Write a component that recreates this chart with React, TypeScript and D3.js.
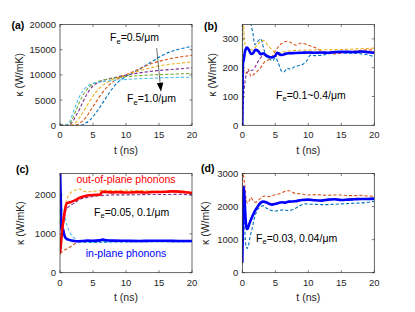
import React from 'react';
import * as d3 from 'd3';

type Pt = [number, number];

const tTicks = [0, 5, 10, 15, 20];
const aTicks = [0, 5000, 10000, 15000, 20000];
const bTicks = [0, 100, 200, 300];
const cTicks = [0, 1000, 2000];
const dTicks = [0, 1000, 2000, 3000];

// Panel (a): Fe = 0.5 ... 1.0 /um
const aFe05: Pt[] = [[0,0],[3,0],[3.5,150],[4,500],[4.5,1000],[5,1700],[5.5,2600],[6,3500],[6.5,4500],[7,5500],[7.5,6500],[8,7400],[8.5,8200],[9,8800],[10,9700],[11,10400],[12,11100],[13,11900],[14,12700],[15,13500],[16,14200],[17,14700],[18,15100],[19,15400],[20,15700]];
const aFe06: Pt[] = [[0,0],[2,0],[2.5,100],[3,400],[3.5,1000],[4,1700],[4.5,2700],[5,3700],[5.5,4700],[6,5700],[7,7400],[8,8600],[9,9400],[10,10000],[11,10600],[12,11200],[13,11800],[14,12300],[15,12700],[16,13000],[17,13300],[18,13500],[19,13700],[20,13900]];
const aFe07: Pt[] = [[0,0],[1,0],[2,200],[2.5,700],[3,1600],[3.5,2600],[4,3700],[4.5,4800],[5,5800],[6,7400],[7,8400],[8,9100],[9,9600],[10,10000],[12,10800],[14,11500],[16,12000],[18,12300],[20,12600]];
const aFe08: Pt[] = [[0,0],[1,0],[1.5,150],[2,900],[2.5,2100],[3,3300],[3.5,4700],[4,6000],[5,7800],[6,8600],[7,9100],[8,9400],[9,9700],[10,9950],[12,10400],[14,10750],[16,11000],[18,11200],[20,11400]];
const aFe09: Pt[] = [[0,0],[1,50],[1.5,400],[2,1600],[2.5,3200],[3,4700],[3.5,6000],[4,7000],[5,8200],[6,8800],[7,9100],[8,9300],[9,9500],[10,9650],[12,9850],[14,10000],[16,10100],[18,10200],[20,10300]];
const aFe10: Pt[] = [[0,0],[1,100],[1.5,800],[2,2600],[2.5,4300],[3,5800],[3.5,6900],[4,7600],[5,8300],[6,8600],[7,8750],[8,8900],[9,9000],[10,9100],[12,9250],[14,9350],[16,9450],[18,9500],[20,9550]];

// Panel (b)
const bMean: Pt[] = [[0,0],[0.05,150],[0.1,215],[0.2,225],[0.4,255],[0.7,270],[1.0,262],[1.3,248],[1.6,250],[2.0,262],[2.4,258],[2.8,247],[3.2,250],[3.6,243],[4.0,238],[4.5,236],[5.0,242],[5.3,252],[5.6,248],[6.0,244],[6.5,248],[7,250],[8,251],[9,252],[10,253],[11,252],[12,253],[13,252],[14,254],[15,255],[16,255],[17,254],[18,256],[19,254],[20,252]];
const bFe01: Pt[] = [[0,20],[0.1,400],[0.4,380],[0.8,370],[1.2,360],[1.6,320],[1.9,280],[2.3,290],[2.8,300],[3.2,270],[3.6,240],[4.1,230],[4.6,225],[5.0,235],[5.4,220],[5.9,190],[6.3,185],[6.8,198],[7.3,195],[7.9,203],[8.5,207],[9.2,212],[9.8,225],[10.3,243],[11,242],[12,243],[13,248],[14,254],[15,252],[16,250],[17,251],[18,248],[19,245],[20,238]];
const bFe02: Pt[] = [[0,0],[0.15,150],[0.3,190],[0.6,180],[0.9,195],[1.3,170],[1.8,178],[2.3,188],[2.8,200],[3.3,218],[3.8,225],[4.3,232],[4.8,250],[5.3,268],[5.9,283],[6.4,290],[6.9,292],[7.5,285],[8.2,278],[8.8,285],[9.4,283],[10,278],[11,270],[12,258],[13,250],[14,248],[15,250],[16,255],[17,258],[18,260],[19,262],[20,262]];
const bFe03: Pt[] = [[0,0],[0.05,340],[0.15,380],[0.3,300],[0.6,270],[1.0,265],[1.5,262],[2.0,272],[2.5,285],[3.0,295],[3.4,292],[3.8,280],[4.2,270],[4.6,260],[5.0,255],[5.5,252],[6.0,254],[7,258],[8,260],[10,261],[12,262],[14,263],[16,264],[18,266],[20,268]];
const bFe04: Pt[] = [[0,0],[0.2,100],[0.4,150],[0.8,185],[1.2,190],[1.6,192],[2.0,205],[2.4,222],[2.8,235],[3.2,243],[3.6,240],[4.1,236],[4.6,238],[5.2,240],[6,244],[7,248],[8,250],[10,252],[12,252],[14,253],[16,254],[18,254],[20,255]];

// Panel (c)
const cInPlane: Pt[] = [[0,2700],[0.1,2000],[0.2,1200],[0.3,1050],[0.45,1120],[0.6,1000],[0.8,900],[1.0,870],[1.3,850],[1.7,830],[2.2,815],[2.8,810],[3.5,815],[4.3,825],[5,820],[6,830],[6.5,850],[7,835],[8,825],[10,820],[12,815],[14,820],[16,820],[18,815],[20,815]];
const cOutPlane: Pt[] = [[0,500],[0.1,650],[0.25,980],[0.5,1320],[0.75,1600],[1.0,1780],[1.5,1810],[2.0,1840],[2.5,1880],[3.0,1930],[3.8,1970],[4.5,1990],[5.5,2000],[6.1,2010],[6.4,2080],[7,2075],[8,2065],[9,2070],[10,2060],[11,2065],[12,2070],[13,2060],[14,2075],[15,2075],[16,2080],[17,2090],[18,2085],[19,2070],[20,2050]];
const cOutA: Pt[] = [[0,450],[0.3,1100],[0.6,1550],[0.9,1800],[1.2,1950],[1.6,2050],[2.0,2100],[2.5,2130],[3.0,2150],[3.5,2100],[4,2080],[5,2090],[6,2110],[7,2120],[8,2110],[10,2120],[12,2110],[14,2100],[16,2090],[18,2100],[20,2070]];
const cOutB: Pt[] = [[0,480],[0.3,900],[0.6,1350],[0.9,1600],[1.2,1680],[1.6,1730],[2.0,1770],[2.5,1830],[3.0,1880],[4,1930],[5,1960],[6,1980],[7,1990],[8,2000],[10,2000],[12,2005],[14,2010],[16,2010],[18,2015],[20,2000]];
const cInA: Pt[] = [[0,500],[0.5,560],[1,610],[1.5,660],[2,720],[2.5,770],[3,800],[4,810],[5,800],[6,810],[7,820],[8,810],[10,805],[12,805],[14,810],[16,805],[18,805],[20,805]];
const cInB: Pt[] = [[0,2600],[0.2,1800],[0.4,1550],[0.6,1480],[0.8,1400],[1.0,1250],[1.3,1100],[1.7,980],[2.2,880],[2.8,820],[3.5,800],[5,790],[7,800],[10,800],[14,800],[20,800]];
const cInC: Pt[] = [[0,1200],[0.3,1050],[0.6,980],[1,900],[1.5,850],[2,820],[3,790],[5,780],[8,790],[12,795],[20,800]];

// Panel (d)
const dMean: Pt[] = [[0,300],[0.1,1500],[0.2,2600],[0.3,2400],[0.45,1800],[0.6,1400],[0.75,1320],[0.9,1380],[1.1,1500],[1.4,1650],[1.7,1780],[2.0,1900],[2.4,2020],[2.8,2120],[3.2,2150],[3.6,2130],[4.0,2090],[4.5,2060],[5.0,2080],[5.5,2110],[6,2130],[6.5,2120],[7,2150],[8,2160],[9,2200],[10,2210],[11,2190],[12,2180],[13,2210],[14,2220],[15,2200],[16,2210],[17,2220],[18,2230],[19,2230],[20,2240]];
const dFe003: Pt[] = [[0,250],[0.05,3100],[0.2,2900],[0.4,2600],[0.6,2200],[0.8,2100],[1.0,2150],[1.3,2280],[1.6,2180],[2.0,2130],[2.5,2200],[3.0,2300],[3.5,2320],[4.0,2300],[4.5,2330],[5,2360],[5.5,2380],[6,2420],[6.5,2460],[7,2480],[7.5,2450],[8,2400],[9,2380],[10,2350],[11,2360],[12,2350],[13,2340],[14,2350],[15,2350],[16,2330],[17,2330],[18,2340],[19,2320],[20,2310]];
const dFe004: Pt[] = [[0,300],[0.1,2000],[0.2,2500],[0.35,1500],[0.5,900],[0.7,730],[0.9,800],[1.2,1100],[1.5,1350],[1.9,1700],[2.3,1900],[2.8,2000],[3.2,2030],[3.6,1960],[4.2,1900],[4.8,1860],[5.5,1880],[6.2,1900],[7,1880],[7.8,1920],[8.5,2000],[9.5,2080],[10.5,2070],[12,2060],[13,2060],[14,2070],[15,2080],[16,2090],[17,2100],[18,2110],[19,2130],[20,2160]];

const C1 = '#0072BD', C2 = '#D95319', C3 = '#EDB120', C4 = '#7E2F8E', C5 = '#77AC30', C6 = '#4DBEEE';
const FONT = 'Liberation Sans, Arial, Helvetica, sans-serif';
const AX = '#262626';

type S = { data: Pt[]; color: string; width: number; dash?: string };

function Fe({ x, y, rest, size = 10.5 }: { x: number; y: number; rest: string; size?: number }) {
  return (
    <text x={x} y={y} fontSize={size} fontFamily={FONT} fill="#000">
      <tspan>F</tspan>
      <tspan dy={2.8} fontSize={size * 0.72}>e</tspan>
      <tspan dy={-2.8}>{rest}</tspan>
    </text>
  );
}

function Panel({ id, left, right, top, bottom, yMax, yTicks, series, label, lx, ly, ylx, children }:
  { id: string; left: number; right: number; top: number; bottom: number; yMax: number; yTicks: number[]; series: S[]; label: string; lx: number; ly: number; ylx: number; children?: React.ReactNode }) {
  const x = d3.scaleLinear().domain([0, 20]).range([left, right]);
  const y = d3.scaleLinear().domain([0, yMax]).range([bottom, top]);
  const line = d3.line<Pt>().x(d => x(d[0])).y(d => y(d[1])).curve(d3.curveMonotoneX);
  const tl = 2.5;
  return (
    <g>
      <defs>
        <clipPath id={'clip' + id}>
          <rect x={left} y={top} width={right - left} height={bottom - top} />
        </clipPath>
      </defs>
      <rect x={left} y={top} width={right - left} height={bottom - top} fill="#fff" />
      <g clipPath={`url(#clip${id})`}>
        {series.map((s, i) => (
          <path key={i} d={line(s.data) || ''} fill="none" stroke={s.color} strokeWidth={s.width}
            strokeDasharray={s.dash} strokeLinejoin="round" />
        ))}
      </g>
      <rect x={left} y={top} width={right - left} height={bottom - top} fill="none" stroke={AX} strokeWidth={0.7} />
      {tTicks.map(t => (
        <g key={'x' + t}>
          <line x1={x(t)} x2={x(t)} y1={bottom} y2={bottom - tl} stroke={AX} strokeWidth={0.6} />
          <line x1={x(t)} x2={x(t)} y1={top} y2={top + tl} stroke={AX} strokeWidth={0.6} />
          <text x={x(t)} y={bottom + 13} textAnchor="middle" fontSize={9.5} fontFamily={FONT} fill={AX}>{t}</text>
        </g>
      ))}
      {yTicks.map(v => (
        <g key={'y' + v}>
          <line x1={left} x2={left + tl} y1={y(v)} y2={y(v)} stroke={AX} strokeWidth={0.6} />
          <line x1={right} x2={right - tl} y1={y(v)} y2={y(v)} stroke={AX} strokeWidth={0.6} />
          <text x={left - 4} y={y(v) + 3.4} textAnchor="end" fontSize={9.5} fontFamily={FONT} fill={AX}>{v}</text>
        </g>
      ))}
      <text x={(left + right) / 2} y={bottom + 28.5} textAnchor="middle" fontSize={10.5} fontFamily={FONT} fill={AX}>t (ns)</text>
      <text transform={`translate(${ylx},${(top + bottom) / 2}) rotate(-90)`} textAnchor="middle" fontSize={10.5} fontFamily={FONT} fill={AX}>κ (W/mK)</text>
      <text x={lx} y={ly} fontSize={10.5} fontWeight="bold" fontFamily={FONT} fill="#000">{label}</text>
      {children}
    </g>
  );
}

export default function App() {
  const dash = '3.2,2';
  const aX = d3.scaleLinear().domain([0, 20]).range([60, 192]);
  const aY = d3.scaleLinear().domain([0, 20000]).range([125.3, 24.5]);
  const arrowFrom: Pt = [14.65, 15300];
  const arrowTo: Pt = [15.3, 6650];
  const ax1 = aX(arrowFrom[0]), ay1 = aY(arrowFrom[1]), ax2 = aX(arrowTo[0]), ay2 = aY(arrowTo[1]);
  const ang = Math.atan2(ay2 - ay1, ax2 - ax1);
  const hl = 9, hw = 3.2;
  const bx = ax2 - hl * Math.cos(ang), by = ay2 - hl * Math.sin(ang);
  const px = -Math.sin(ang) * hw, py = Math.cos(ang) * hw;
  return (
    <svg width={415} height={312} style={{ position: 'absolute', left: 0, top: 0, background: '#fff' }}>
      <Panel id="a" left={60} right={192} top={24.5} bottom={125.3} yMax={20000} yTicks={aTicks} label="(a)" lx={11.5} ly={28.5} ylx={23}
        series={[
          { data: aFe05, color: C1, width: 1.1, dash },
          { data: aFe06, color: C2, width: 1.1, dash },
          { data: aFe07, color: C3, width: 1.1, dash },
          { data: aFe08, color: C4, width: 1.1, dash },
          { data: aFe09, color: C5, width: 1.1, dash },
          { data: aFe10, color: C6, width: 1.1, dash },
        ]}>
        <line x1={ax1} y1={ay1} x2={bx} y2={by} stroke="#333" strokeWidth={0.7} />
        <path d={`M${ax2},${ay2}L${bx + px},${by + py}L${bx - px},${by - py}Z`} fill="#000" />
        <Fe x={110} y={41} rest="=0.5/μm" />
        <Fe x={127} y={102} rest="=1.0/μm" />
      </Panel>
      <Panel id="b" left={242.3} right={374.3} top={24.5} bottom={125.3} yMax={350} yTicks={bTicks} label="(b)" lx={204} ly={30} ylx={216}
        series={[
          { data: bFe01, color: C1, width: 1.1, dash },
          { data: bFe02, color: C2, width: 1.1, dash },
          { data: bFe03, color: C3, width: 1.1, dash },
          { data: bFe04, color: C4, width: 1.1, dash },
          { data: bMean, color: '#0000FF', width: 2.6 },
        ]}>
        <Fe x={276} y={98.5} rest="=0.1~0.4/μm" />
      </Panel>
      <Panel id="c" left={60} right={192} top={173.5} bottom={272.7} yMax={2550} yTicks={cTicks} label="(c)" lx={16} ly={172.5} ylx={24}
        series={[
          { data: cInA, color: C2, width: 1.1, dash },
          { data: cInB, color: C6, width: 1.1, dash },
          { data: cInC, color: C1, width: 1.1, dash },
          { data: cOutA, color: C3, width: 1.1, dash },
          { data: cOutB, color: C4, width: 1.1, dash },
          { data: cInPlane, color: '#0000FF', width: 2.6 },
          { data: cOutPlane, color: '#FF0000', width: 2.6 },
        ]}>
        <text x={126} y={183} textAnchor="middle" fontSize={10.5} fontFamily={FONT} fill="#FF0000">out-of-plane phonons</text>
        <text x={126} y={257} textAnchor="middle" fontSize={10.5} fontFamily={FONT} fill="#0000FF">in-plane phonons</text>
        <Fe x={94} y={215.5} rest="=0.05, 0.1/μm" />
      </Panel>
      <Panel id="d" left={242.3} right={374.3} top={173.5} bottom={272.7} yMax={3000} yTicks={dTicks} label="(d)" lx={201} ly={171.5} ylx={209}
        series={[
          { data: dFe003, color: C2, width: 1.1, dash },
          { data: dFe004, color: C1, width: 1.1, dash },
          { data: dMean, color: '#0000FF', width: 2.6 },
        ]}>
        <Fe x={256} y={241.5} rest="=0.03, 0.04/μm" />
      </Panel>
    </svg>
  );
}
